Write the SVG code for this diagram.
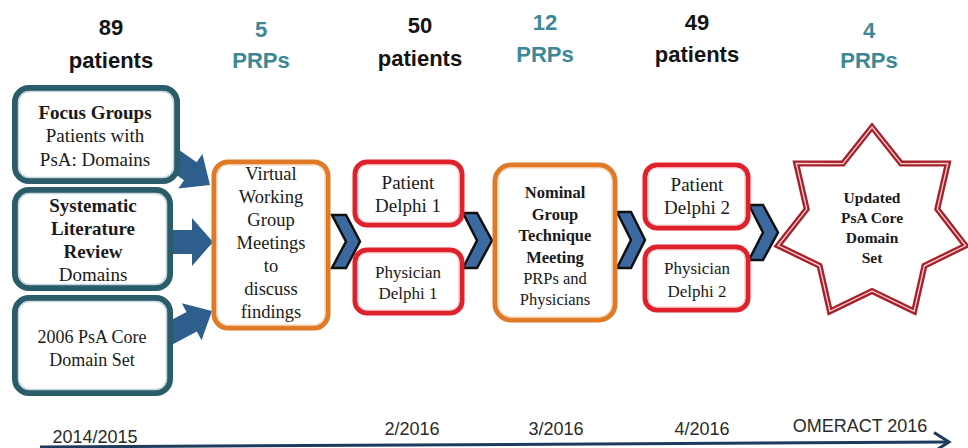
<svg xmlns="http://www.w3.org/2000/svg" width="968" height="448" viewBox="0 0 968 448">
<style>
.num{font-family:"Liberation Sans",Arial,sans-serif;font-weight:bold;font-size:22px;text-anchor:middle;fill:#141414}
.prp{fill:#3e8796}
.t{font-family:"Liberation Serif","Times New Roman",serif;text-anchor:middle;fill:#1a1a1a}
.b{font-weight:bold}
.tl{font-family:"Liberation Sans",Arial,sans-serif;font-size:18px;fill:#2a2a2a;text-anchor:middle}
.teal{fill:#fff;stroke:#2a5c6a;stroke-width:6}
.tealin{fill:none;stroke:#c4d6dc;stroke-width:1.5}
.org{fill:#fff;stroke:#e07a26;stroke-width:5}
.orgin{fill:none;stroke:#f6d2b0;stroke-width:1.2}
.red{fill:#fff;stroke:#e0202a;stroke-width:5}
.redin{fill:none;stroke:#f5c9cb;stroke-width:1.2}
.arr{fill:#2e5e8b}
.chev{fill:#3b69a0;stroke:#111;stroke-width:2.5;stroke-linejoin:miter}
</style>

<g id="labels">
<text class="num" x="111" y="35">89</text>
<text class="num" x="111" y="68">patients</text>
<text class="num prp" x="261" y="37">5</text>
<text class="num prp" x="261" y="68">PRPs</text>
<text class="num" x="420" y="33">50</text>
<text class="num" x="420" y="66">patients</text>
<text class="num prp" x="545" y="30">12</text>
<text class="num prp" x="545" y="62">PRPs</text>
<text class="num" x="697" y="30">49</text>
<text class="num" x="697" y="62">patients</text>
<text class="num prp" x="869" y="38">4</text>
<text class="num prp" x="869" y="68">PRPs</text>
</g>

<g id="connectors">
<polygon class="arr" transform="translate(210,185) rotate(35)" points="0,0 -24,-21 -24,-11 -55,-11 -55,11 -24,11 -24,21"/>
<polygon class="arr" transform="translate(213,242) rotate(0)" points="0,0 -21,-24 -21,-12 -48,-12 -48,12 -21,12 -21,24"/>
<polygon class="arr" transform="translate(212,311) rotate(-28)" points="0,0 -23,-21 -23,-11 -55,-11 -55,11 -23,11 -23,21"/>
<polygon class="chev" points="332,215 346,215 360,241.5 346,268 332,268 346,241.5"/>
<polygon class="chev" points="463,213 477,213 492,240.5 477,268 463,268 477,240.5"/>
<polygon class="chev" points="617,212 631,212 645,240 631,268 617,268 631,240"/>
<polygon class="chev" points="749,205 763,205 778,232.5 763,260 749,260 763,232.5"/>
</g>

<g id="focus-groups">
<rect class="teal" x="15" y="88" width="162" height="93" rx="14"/>
<rect class="tealin" x="18.5" y="91.5" width="155" height="86" rx="11"/>
<text class="t" font-size="19"><tspan class="b" x="95" y="119">Focus Groups</tspan><tspan x="95" y="142">Patients with</tspan><tspan x="95" y="166">PsA: Domains</tspan></text>
</g>

<g id="systematic-review">
<rect class="teal" x="15" y="190" width="155" height="98" rx="14"/>
<rect class="tealin" x="18.5" y="193.5" width="148" height="91" rx="11"/>
<text class="t" font-size="19"><tspan class="b" x="93" y="212">Systematic</tspan><tspan class="b" x="93" y="235">Literature</tspan><tspan class="b" x="93" y="258">Review</tspan><tspan x="93" y="281">Domains</tspan></text>
</g>

<g id="core-domain-2006">
<rect class="teal" x="15" y="298" width="155" height="95" rx="14"/>
<rect class="tealin" x="18.5" y="301.5" width="148" height="88" rx="11"/>
<text class="t" font-size="18"><tspan x="92" y="343">2006 PsA Core</tspan><tspan x="92" y="366">Domain Set</tspan></text>
</g>

<g id="virtual-meetings">
<rect class="org" x="214" y="162" width="114" height="166" rx="14"/>
<rect class="orgin" x="217" y="165" width="108" height="160" rx="11"/>
<text class="t" font-size="18.5"><tspan x="271" y="180">Virtual</tspan><tspan x="271" y="203">Working</tspan><tspan x="271" y="226">Group</tspan><tspan x="271" y="249">Meetings</tspan><tspan x="271" y="272">to</tspan><tspan x="271" y="295">discuss</tspan><tspan x="271" y="318">findings</tspan></text>
</g>

<g id="patient-delphi-1">
<rect class="red" x="355" y="162" width="107" height="63" rx="12"/>
<rect class="redin" x="358" y="165" width="101" height="57" rx="9"/>
<text class="t" font-size="19"><tspan x="408" y="189">Patient</tspan><tspan x="408" y="212">Delphi  1</tspan></text>
</g>

<g id="physician-delphi-1">
<rect class="red" x="355" y="250" width="107" height="63" rx="12"/>
<rect class="redin" x="358" y="253" width="101" height="57" rx="9"/>
<text class="t" font-size="17"><tspan x="408" y="278">Physician</tspan><tspan x="408" y="299">Delphi  1</tspan></text>
</g>

<g id="nominal-group">
<rect class="org" x="495" y="165" width="120" height="155" rx="16"/>
<rect class="orgin" x="498" y="168" width="114" height="149" rx="13"/>
<text class="t" font-size="16.5"><tspan class="b" x="555" y="198">Nominal</tspan><tspan class="b" x="555" y="220">Group</tspan><tspan class="b" x="555" y="241">Technique</tspan><tspan class="b" x="555" y="263">Meeting</tspan><tspan x="555" y="284">PRPs and</tspan><tspan x="555" y="305">Physicians</tspan></text>
</g>

<g id="patient-delphi-2">
<rect class="red" x="645" y="165" width="103" height="63" rx="12"/>
<rect class="redin" x="648" y="168" width="97" height="57" rx="9"/>
<text class="t" font-size="19"><tspan x="697" y="191">Patient</tspan><tspan x="697" y="214">Delphi 2</tspan></text>
</g>

<g id="physician-delphi-2">
<rect class="red" x="645" y="247" width="103" height="63" rx="12"/>
<rect class="redin" x="648" y="250" width="97" height="57" rx="9"/>
<text class="t" font-size="17"><tspan x="697" y="274">Physician</tspan><tspan x="697" y="297">Delphi  2</tspan></text>
</g>

<g id="updated-core-set">
<polygon points="872,127 901.1,163.6 947.8,163.5 937.3,209.1 965.5,245.6 924.4,265.8 914.1,311.4 872,291 829.9,311.4 819.6,265.8 778,245.6 806.7,209.1 796.2,163.5 842.9,163.6" fill="#fff" stroke="#a8202a" stroke-width="6" stroke-linejoin="miter"/>
<polygon points="872,127 901.1,163.6 947.8,163.5 937.3,209.1 965.5,245.6 924.4,265.8 914.1,311.4 872,291 829.9,311.4 819.6,265.8 778,245.6 806.7,209.1 796.2,163.5 842.9,163.6" fill="none" stroke="#f3d3d4" stroke-width="1.3" stroke-linejoin="miter"/>
<text class="t b" font-size="15.5"><tspan x="872" y="203">Updated</tspan><tspan x="872" y="223">PsA Core</tspan><tspan x="872" y="243">Domain</tspan><tspan x="872" y="263">Set</tspan></text>
</g>

<g id="timeline">
<line x1="40" y1="447" x2="948" y2="442" stroke="#1f3b5c" stroke-width="3"/>
<polyline points="934,432.5 949,442 934,451.5" fill="none" stroke="#1f3b5c" stroke-width="3"/>
<text class="tl" x="95" y="443">2014/2015</text>
<text class="tl" x="412" y="435">2/2016</text>
<text class="tl" x="556" y="435">3/2016</text>
<text class="tl" x="702" y="435">4/2016</text>
<text class="tl" x="860" y="432" font-size="17">OMERACT 2016</text>
</g>
</svg>
